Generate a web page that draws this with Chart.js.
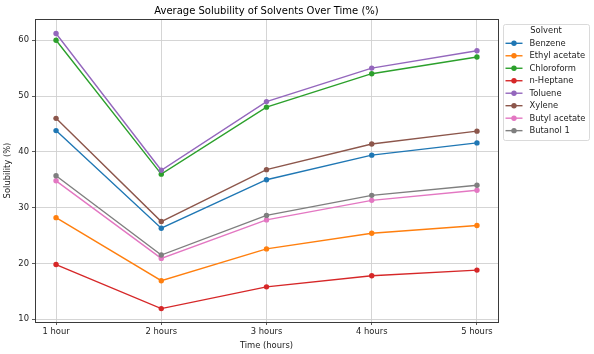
<!DOCTYPE html>
<html><head><meta charset="utf-8">
<script src="https://cdn.jsdelivr.net/npm/chart.js@4"></script>
<style>html,body{margin:0;padding:0;background:#fff}#wrap{width:594px;height:354px}</style>
</head><body><div id="wrap"><canvas id="c" width="594" height="354"></canvas></div>
<script>
const categories = ["1 hour", "2 hours", "3 hours", "4 hours", "5 hours"];
const yTicks = [10, 20, 30, 40, 50, 60];
const seriesNames = ["Benzene", "Ethyl acetate", "Chloroform", "n-Heptane", "Toluene", "Xylene", "Butyl acetate", "Butanol 1"];
const benzene = [43.8, 26.3, 35.0, 39.4, 41.6];
const ethylAcetate = [28.2, 16.9, 22.6, 25.4, 26.8];
const chloroform = [60.0, 36.0, 48.0, 54.0, 57.0];
const nHeptane = [19.8, 11.9, 15.8, 17.8, 18.8];
const toluene = [61.2, 36.7, 49.0, 55.0, 58.1];
const xylene = [46.0, 27.5, 36.8, 41.4, 43.7];
const butylAcetate = [34.8, 20.9, 27.8, 31.3, 33.1];
const butanol1 = [35.7, 21.5, 28.6, 32.2, 34.0];
const seriesValues = [benzene, ethylAcetate, chloroform, nHeptane, toluene, xylene, butylAcetate, butanol1];
const colors = ["#1f77b4", "#ff7f0e", "#2ca02c", "#d62728", "#9467bd", "#8c564b", "#e377c2", "#7f7f7f"];

const FONT = "DejaVu Sans";
const N = seriesNames.length;
const datasets = seriesNames.map((name, i) => ({
  label: name,
  data: seriesValues[i].map((v, j) => ({x: j, y: v})),
  borderColor: colors[i],
  backgroundColor: colors[i],
  pointBackgroundColor: colors[i],
  pointBorderColor: colors[i],
  borderWidth: 1.4,
  pointRadius: 2.7,
  pointBorderWidth: 0,
  tension: 0,
  order: N - i
}));

const decor = {
  id: 'decor',
  afterDraw(chart) {
    const ctx = chart.ctx;
    const a = chart.chartArea;
    ctx.save();
    ctx.strokeStyle = '#3a3a3a';
    ctx.lineWidth = 1;
    ctx.strokeRect(a.left + 0.5, a.top + 0.5, a.right - a.left, a.bottom - a.top);
    ctx.fillStyle = '#000';
    ctx.font = `10px "${FONT}"`;
    ctx.textAlign = 'center';
    ctx.textBaseline = 'middle';
    ctx.fillText('Average Solubility of Solvents Over Time (%)', (a.left + a.right) / 2, 11);
    const lx = 503, ly = 24, lw = 86, lh = 116;
    ctx.beginPath();
    if (ctx.roundRect) ctx.roundRect(lx + 0.5, ly + 0.5, lw, lh, 2); else ctx.rect(lx + 0.5, ly + 0.5, lw, lh);
    ctx.fillStyle = 'rgba(255,255,255,0.85)';
    ctx.fill();
    ctx.strokeStyle = '#d0d0d0';
    ctx.lineWidth = 0.8;
    ctx.stroke();
    ctx.fillStyle = '#222';
    ctx.font = `8.4px "${FONT}"`;
    ctx.textAlign = 'center';
    ctx.fillText('Solvent', 546, 31);
    chart.data.datasets.forEach((ds, i) => {
      const y = 43.3 + i * 12.48;
      ctx.strokeStyle = ds.borderColor;
      ctx.lineWidth = 1.4;
      ctx.beginPath();
      ctx.moveTo(505.5, y);
      ctx.lineTo(522.5, y);
      ctx.stroke();
      ctx.fillStyle = ds.borderColor;
      ctx.beginPath();
      ctx.arc(514, y, 2.7, 0, Math.PI * 2);
      ctx.fill();
      ctx.fillStyle = '#222';
      ctx.textAlign = 'left';
      ctx.fillText(ds.label, 529.5, y + 0.5);
    });
    ctx.restore();
  }
};

new Chart(document.getElementById('c'), {
  type: 'line',
  data: {datasets},
  plugins: [decor],
  options: {
    responsive: false,
    animation: false,
    devicePixelRatio: 1,
    layout: {padding: {top: 19, right: 96, left: 0, bottom: 0}},
    plugins: {legend: {display: false}, title: {display: false}, tooltip: {enabled: false}},
    scales: {
      x: {
        type: 'linear',
        min: -0.2, max: 4.2,
        afterBuildTicks: s => { s.ticks = categories.map((c, i) => ({value: i})); },
        afterFit: s => { s.height = 32; },
        ticks: {
          color: '#222', padding: 2, maxRotation: 0, autoSkip: false,
          font: {family: FONT, size: 8.4},
          callback: v => categories[v] ?? ''
        },
        grid: {color: '#d0d0d0', lineWidth: 0.9, tickLength: 3, tickColor: '#333', tickWidth: 0.8},
        border: {display: false},
        title: {display: true, text: 'Time (hours)', color: '#222', font: {family: FONT, size: 8.4}, padding: {top: 2, bottom: 3}}
      },
      y: {
        type: 'linear',
        min: 9.5, max: 63.8,
        afterBuildTicks: s => { s.ticks = yTicks.map(v => ({value: v})); },
        afterFit: s => { s.width = 35; },
        ticks: {color: '#222', padding: 3, font: {family: FONT, size: 8.4}},
        grid: {color: '#d0d0d0', lineWidth: 0.9, tickLength: 3, tickColor: '#333', tickWidth: 0.8},
        border: {display: false},
        title: {display: true, text: 'Solubility (%)', color: '#222', font: {family: FONT, size: 8.4}, padding: {top: 3, bottom: 2}}
      }
    }
  }
});
</script></body></html>
